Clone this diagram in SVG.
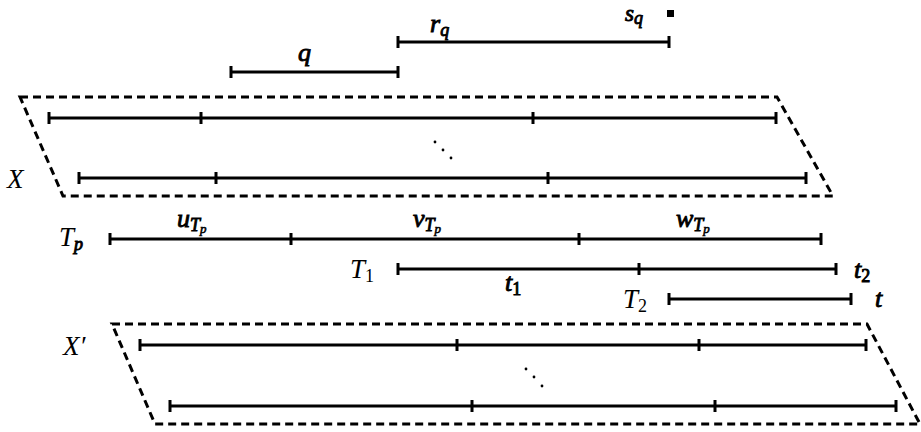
<svg xmlns="http://www.w3.org/2000/svg" width="921" height="432" viewBox="0 0 921 432">
<style>
.seg{stroke:#000;stroke-width:3;fill:none;stroke-linecap:butt}
.box{stroke:#000;stroke-width:3;fill:none;stroke-dasharray:8 5}
text{font-family:"Liberation Serif","DejaVu Serif",serif;font-style:italic;fill:#000}
.m{font-size:27px}
.b{font-size:26px;stroke:#000;stroke-width:0.9;paint-order:stroke}
.s{font-size:18px;font-style:normal}
.sb{font-size:18px}
.ss{font-size:13px;stroke-width:0.6}
.up{font-style:normal}
</style>
<rect width="921" height="432" fill="#fff"/>

<g id="q">
<path class="seg" d="M231 72H398M231 66V78M398 66V78"/>
<text class="b" x="298" y="61">q</text>
</g>
<g id="rq">
<path class="seg" d="M398 42H669M398 36V48M669 36V48"/>
<text class="b" x="430" y="32">r<tspan class="sb" dy="4">q</tspan></text>
</g>
<g id="sq">
<text class="b" x="625" y="21" style="font-size:23px">s<tspan class="sb" dy="3">q</tspan></text>
<rect x="667" y="10" width="7" height="7" fill="#000"/>
</g>

<g id="X">
<polygon class="box" points="20,97 777,97 833,196 63,196"/>
<path class="seg" d="M49 118H776M49 112V124M201 112V124M533 112V124M776 112V124"/>
<path class="seg" d="M79 178H806M79 172V184M216 172V184M548 172V184M806 172V184"/>
<g fill="#000"><circle cx="435" cy="142" r="1.4"/><circle cx="443" cy="150" r="1.4"/><circle cx="451" cy="158" r="1.4"/></g>
<text class="m" x="7" y="188">X</text>
</g>

<g id="Tp">
<path class="seg" d="M110 239H821M110 233V245M291 233V245M579 233V245M821 233V245"/>
<text class="m" x="59" y="246">T<tspan class="b sb" dy="4">p</tspan></text>
<text class="b" x="177" y="227">u<tspan class="sb" dy="4">T</tspan><tspan class="ss" dy="2">p</tspan></text>
<text class="b" x="413" y="227">v<tspan class="sb" dy="4">T</tspan><tspan class="ss" dy="2">p</tspan></text>
<text class="b" x="676" y="227">w<tspan class="sb" dy="4">T</tspan><tspan class="ss" dy="2">p</tspan></text>
</g>

<g id="T1">
<path class="seg" d="M398 269H836M398 263V275M639 263V275M836 263V275"/>
<text class="m" x="350" y="278">T<tspan class="s" dy="4">1</tspan></text>
<text class="b" x="505" y="291">t<tspan class="sb up" dy="4">1</tspan></text>
<text class="b" x="854" y="278">t<tspan class="sb up" dy="4">2</tspan></text>
</g>

<g id="T2">
<path class="seg" d="M669 299H851M669 293V305M851 293V305"/>
<text class="m" x="623" y="308">T<tspan class="s" dy="4">2</tspan></text>
<text class="b" x="875" y="307">t</text>
</g>

<g id="Xp">
<polygon class="box" points="112,324 867,324 920,424 155,424"/>
<path class="seg" d="M140 345H866M140 339V351M457 339V351M699 339V351M866 339V351"/>
<path class="seg" d="M170 406H896M170 400V412M472 400V412M715 400V412M896 400V412"/>
<g fill="#000"><circle cx="526" cy="369" r="1.4"/><circle cx="534" cy="377" r="1.4"/><circle cx="542" cy="386" r="1.4"/></g>
<text class="m" x="63" y="355">X′</text>
</g>

<g id="connectors"/>
</svg>
